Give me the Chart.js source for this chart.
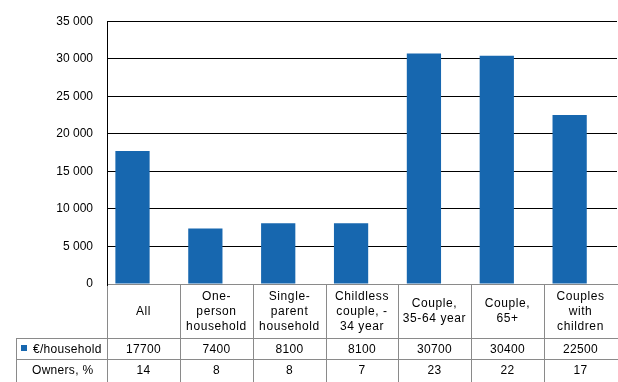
<!DOCTYPE html>
<html>
<head>
<meta charset="utf-8">
<script src="https://cdn.jsdelivr.net/npm/chart.js@4/dist/chart.umd.min.js"></script>
<style>
html,body{margin:0;padding:0;background:#fff;}
canvas{display:block;}
</style>
</head>
<body>
<canvas id="c" width="618" height="382"></canvas>
<script>
const categories = [
  ["All"],
  ["One-", "person", "household"],
  ["Single-", "parent", "household"],
  ["Childless", "couple, -", "34 year"],
  ["Couple,", "35-64 year"],
  ["Couple,", "65+"],
  ["Couples", "with", "children"]
];
const seriesName = "€/household";
const values = [17700, 7400, 8100, 8100, 30700, 30400, 22500];
const ownersLabel = "Owners, %";
const owners = [14, 8, 8, 7, 23, 22, 17];
const yTicks = [0, 5000, 10000, 15000, 20000, 25000, 30000, 35000];

const BAR = '#1767AF';
const GRAY = '#8a8a8a';
const FONT = '12px "Liberation Sans", Arial, sans-serif';

function fmt(v){ return String(v).replace(/\B(?=(\d{3})+(?!\d))/g, ' '); }

const tablePlugin = {
  id: 'table',
  afterDraw(chart){
    const ctx = chart.ctx, xs = chart.scales.x, ys = chart.scales.y;
    const top = Math.round(ys.getPixelForValue(0));
    const hdrBot = top + 54, rowBot = hdrBot + 21, bottom = chart.height;
    const left = 16;
    const n = categories.length;
    const edge = i => Math.round(xs.getPixelForValue(i - 0.35));
    ctx.save();
    ctx.strokeStyle = GRAY; ctx.lineWidth = 1;
    ctx.beginPath();
    ctx.moveTo(edge(0), top + 0.5); ctx.lineTo(chart.width, top + 0.5);
    ctx.moveTo(left, hdrBot + 0.5); ctx.lineTo(chart.width, hdrBot + 0.5);
    ctx.moveTo(left, rowBot + 0.5); ctx.lineTo(chart.width, rowBot + 0.5);
    ctx.moveTo(left + 0.5, hdrBot); ctx.lineTo(left + 0.5, bottom);
    for (let i = 0; i < n; i++) {
      const x = edge(i) + 0.5;
      ctx.moveTo(x, i === 0 ? top + 2 : top); ctx.lineTo(x, bottom);
    }
    ctx.stroke();
    ctx.strokeStyle = '#000';
    ctx.beginPath(); ctx.moveTo(edge(0) + 0.5, top); ctx.lineTo(edge(0) + 0.5, top + 2); ctx.stroke();

    ctx.fillStyle = '#000';
    ctx.font = FONT;
    ctx.textBaseline = 'middle';
    ctx.textAlign = 'center';
    for (let i = 0; i < n; i++) {
      const cx = (edge(i) + edge(i + 1)) / 2;
      const lines = categories[i];
      const lh = 15;
      const cy = (top + hdrBot) / 2 + 0.5;
      ctx.letterSpacing = '0.6px';
      lines.forEach((t, k) => {
        ctx.fillText(t, cx, cy + (k - (lines.length - 1) / 2) * lh);
      });
      ctx.letterSpacing = '0.3px';
      ctx.fillText(String(values[i]), cx, (hdrBot + rowBot) / 2 + 1);
      ctx.fillText(String(owners[i]), cx, (rowBot + bottom) / 2 + 0.5);
    }
    ctx.textAlign = 'left';
    ctx.letterSpacing = '0.3px';
    ctx.fillStyle = BAR;
    ctx.fillRect(21, hdrBot + 7, 6, 6);
    ctx.fillStyle = '#000';
    ctx.fillText(seriesName, 33, (hdrBot + rowBot) / 2 + 1);
    ctx.fillText(ownersLabel, 32, (rowBot + bottom) / 2 + 0.5);
    ctx.restore();
  }
};

new Chart(document.getElementById('c'), {
  type: 'bar',
  data: {
    datasets: [{
      label: seriesName,
      data: values.map((v, i) => ({ x: i, y: v })),
      backgroundColor: BAR,
      borderWidth: 0,
      categoryPercentage: 1,
      barPercentage: 0.47
    }]
  },
  options: {
    responsive: false,
    animation: false,
    devicePixelRatio: 1,
    layout: { padding: { left: 0, right: 1, top: 8, bottom: 98 } },
    plugins: { legend: { display: false }, tooltip: { enabled: false } },
    scales: {
      x: {
        type: 'linear',
        offset: false,
        min: -0.35,
        max: categories.length - 0.35,
        afterBuildTicks: s => { s.ticks = categories.map((_, i) => ({ value: i })); },
        display: false
      },
      y: {
        min: 0,
        max: yTicks[yTicks.length - 1],
        afterBuildTicks: s => { s.ticks = yTicks.map(v => ({ value: v })); },
        afterFit: s => { s.width = 107; },
        ticks: {
          callback: v => fmt(v),
          color: '#000',
          padding: 14,
          font: { family: '"Liberation Sans", Arial, sans-serif', size: 12 }
        },
        grid: {
          color: c => (c.tick && c.tick.value === 0) ? GRAY : '#000',
          lineWidth: 1,
          drawTicks: false
        },
        border: { color: '#000', width: 1 }
      }
    }
  },
  plugins: [tablePlugin]
});
</script>
</body>
</html>
